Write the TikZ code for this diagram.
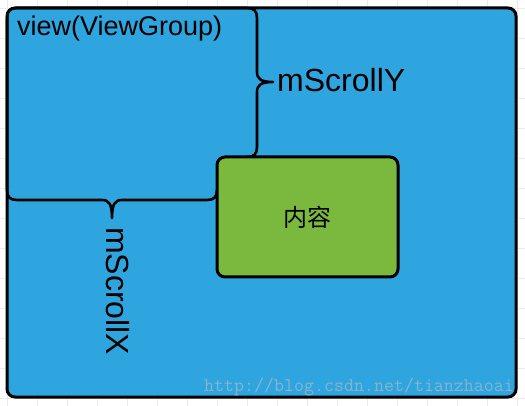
\documentclass[tikz,border=0pt]{standalone}
\usepackage{fontspec}
\setmainfont{Liberation Sans}
\newfontfamily\cjk{Noto Sans CJK SC}
\definecolor{boxblue}{HTML}{2EA5DF}
\definecolor{boxgreen}{HTML}{7AB83E}
\definecolor{gridgray}{HTML}{EBEBEB}
\definecolor{wmark}{HTML}{88B4CC}
\tikzset{
  gridline/.style={draw=gridgray, line width=0.8pt},
  outerbox/.style={draw=black, fill=boxblue, line width=3pt, rounded corners=8pt, inner sep=0pt, minimum width=509pt, minimum height=389pt},
  contentbox/.style={draw=black, fill=boxgreen, line width=3pt, rounded corners=8pt, inner sep=0pt, minimum width=181pt, minimum height=120pt, font=\cjk\fontsize{24}{24}\selectfont},
  bracepath/.style={draw=black, line width=2.6pt, line join=round, line cap=round},
  biglabel/.style={inner sep=0pt, font=\fontsize{32}{32}\selectfont},
  viewlabel/.style={inner sep=0pt, font=\fontsize{27}{27}\selectfont},
  watermark/.style={inner sep=0pt, text=wmark, font=\ttfamily\fontsize{19.4}{19.4}\selectfont}
}
\begin{document}
\begin{tikzpicture}[x=1pt, y=-1pt]
\useasboundingbox (0,0) rectangle (525,406);
\fill[white] (0,0) rectangle (525,406);
% background grid
\foreach \gx in {7,37,...,517} { \draw[gridline] (\gx,0) -- (\gx,406); }
\foreach \gy in {8,38,...,398} { \draw[gridline] (0,\gy) -- (525,\gy); }
% outer box
\node[outerbox] (outer) at (261.5,202.5) {};
% brace shape (view)
\draw[bracepath]
  (247,157) .. controls (254,157) and (257,154) .. (257,147)
  -- (257,92) .. controls (257,85) and (261,82) .. (273,82)
  .. controls (261,82) and (257,79) .. (257,72)
  -- (257,18) .. controls (257,11) and (254,8) .. (247,8)
  -- (17,8) .. controls (10,8) and (7,11) .. (7,18)
  -- (7,190) .. controls (7,197) and (10,200) .. (17,200)
  -- (102,200) .. controls (109,200) and (112,204) .. (112,218)
  .. controls (112,204) and (115,200) .. (122,200)
  -- (207,200) .. controls (214,200) and (217,197) .. (217,190);
% content box
\node[contentbox] (content) at (307.5,217) {内容};
% labels
\node[viewlabel, anchor=base west] (viewtext) at (17,36) {view(ViewGroup)};
\node[biglabel, anchor=base west] (scrolly) at (277,92) {mScrollY};
\node[biglabel, anchor=base west, rotate=-90] (scrollx) at (106,227) {mScrollX};
\node[watermark, anchor=base west] (wm) at (204,391) {http://blog.csdn.net/tianzhaoai};
\end{tikzpicture}
\end{document}
